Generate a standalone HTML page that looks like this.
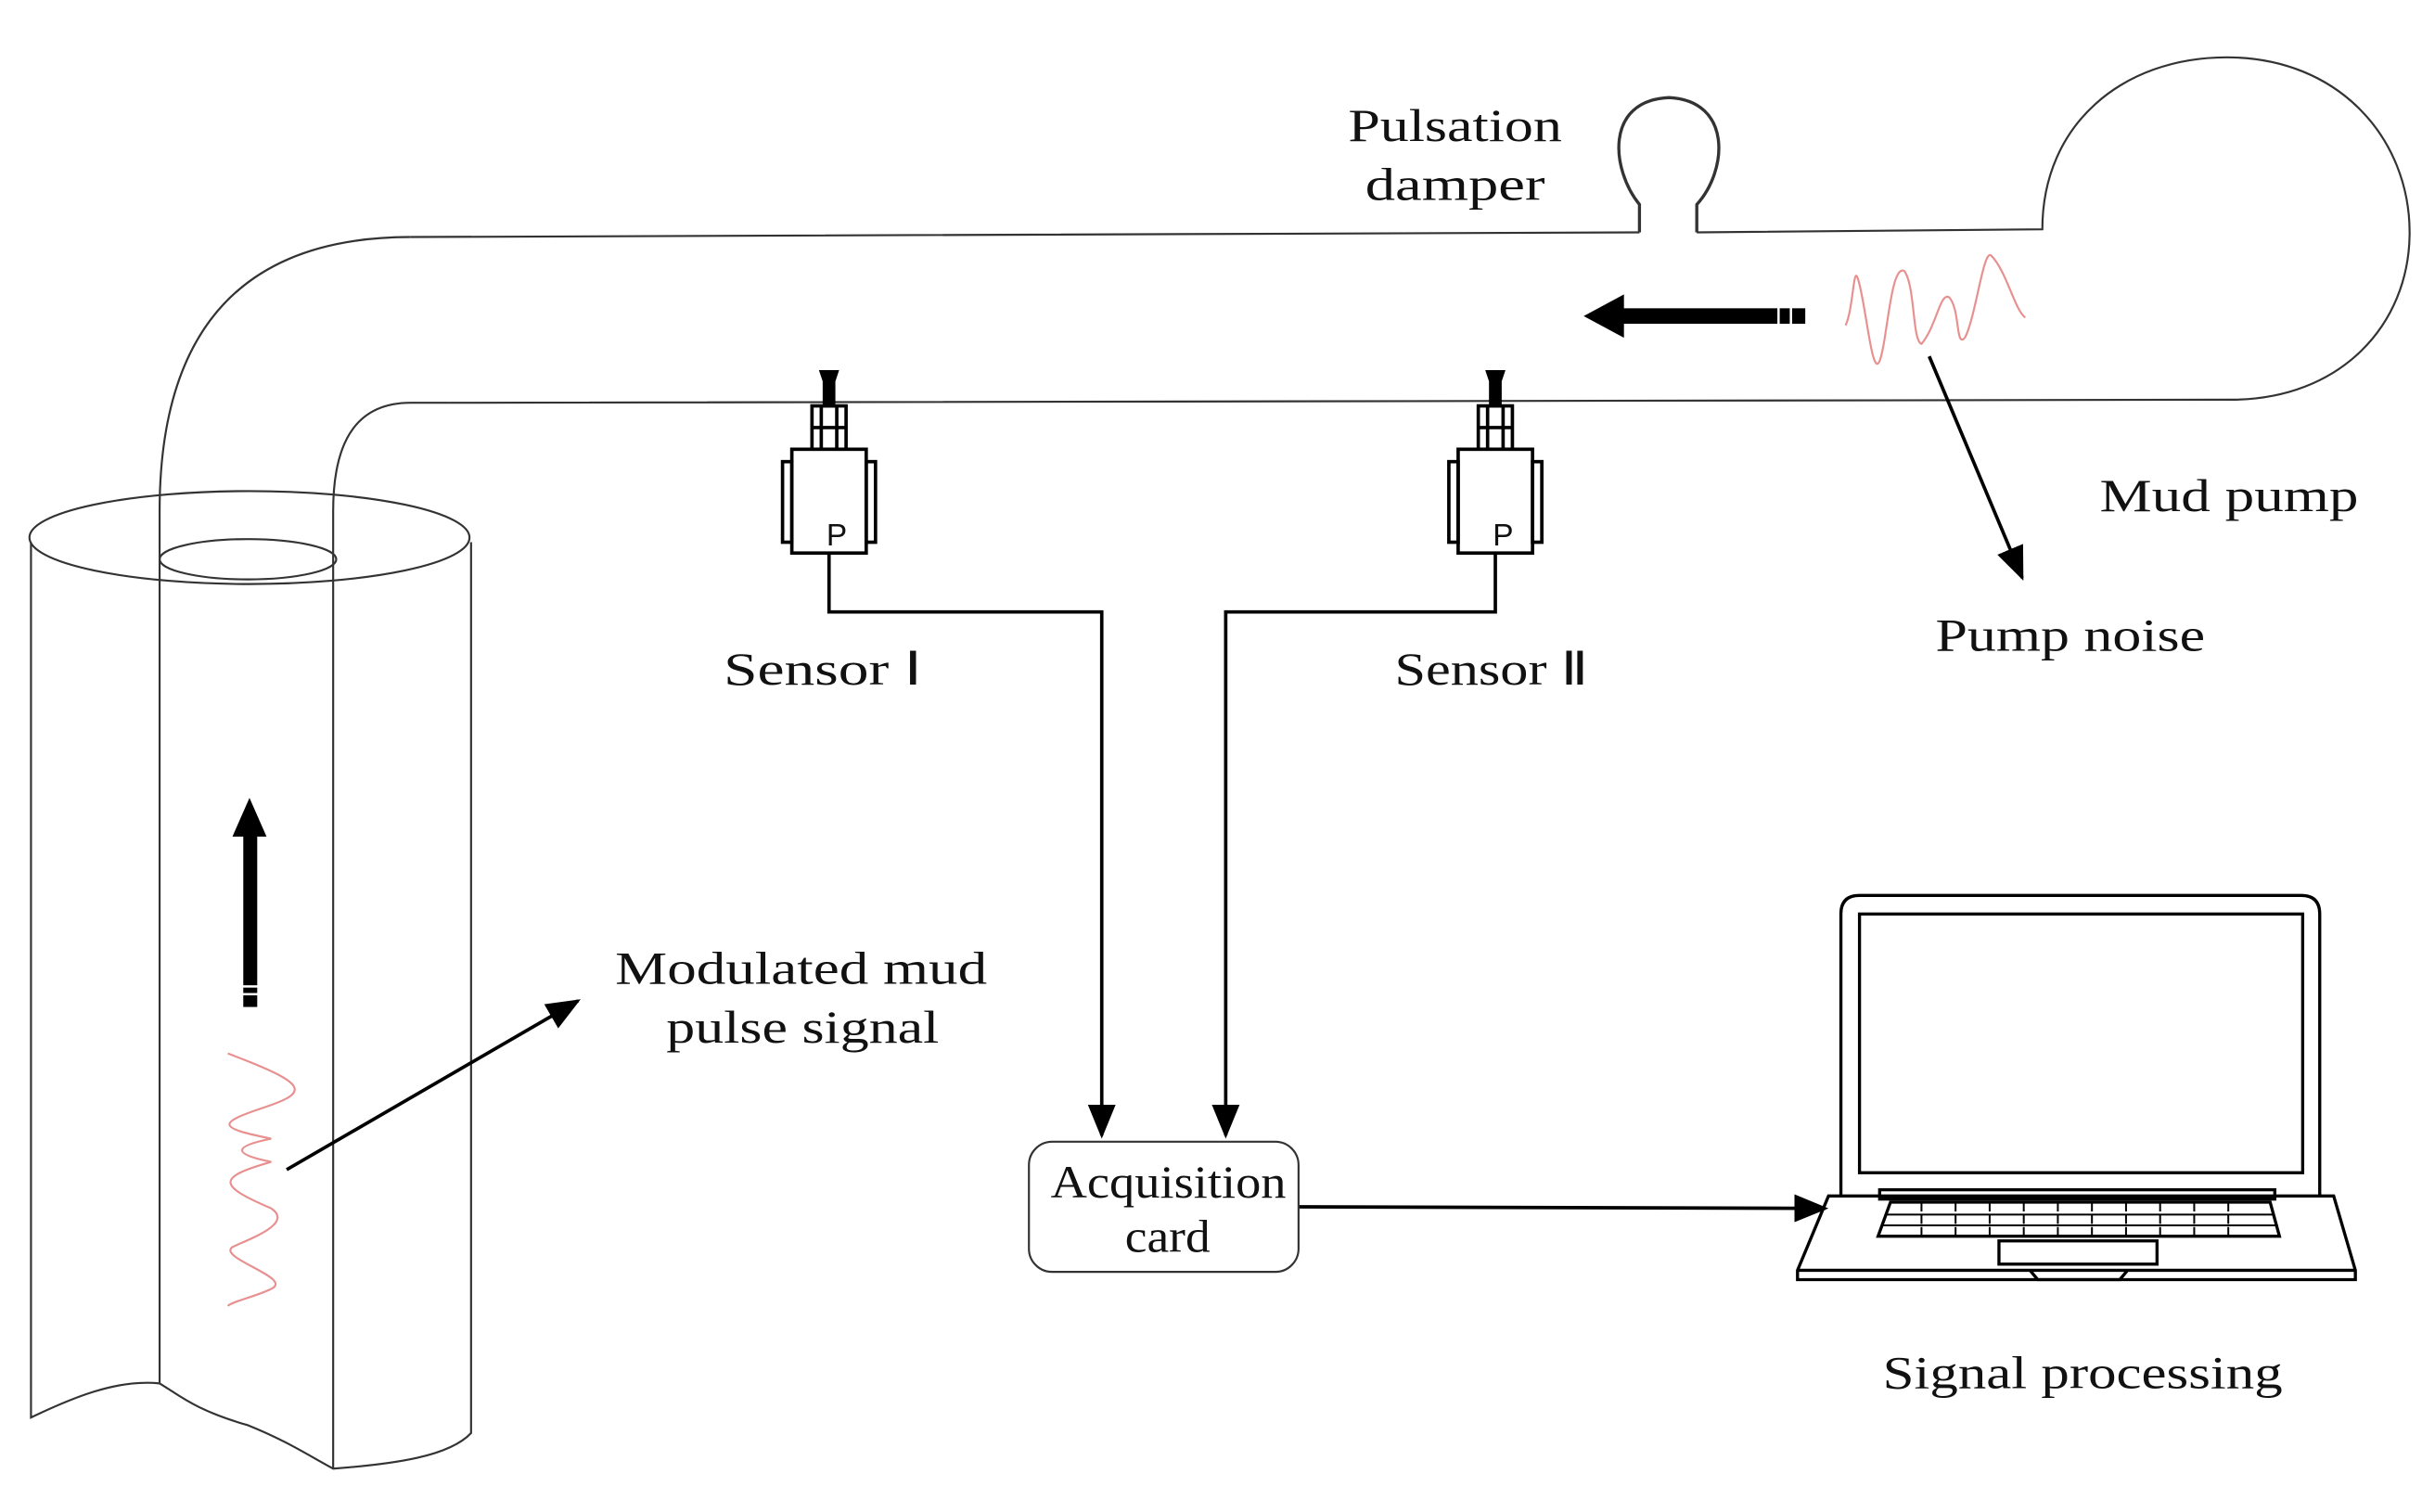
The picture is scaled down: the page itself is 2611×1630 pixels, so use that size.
<!DOCTYPE html>
<html><head><meta charset="utf-8"><style>
html,body{margin:0;padding:0;background:#fff;}
svg{display:block;}
text{font-family:"Liberation Serif",serif;font-size:30px;fill:#111;}
</style></head><body>
<svg width="2611" height="1630" viewBox="0 0 1563 976" preserveAspectRatio="none" xmlns="http://www.w3.org/2000/svg">
<defs>
<marker id="ah2" markerWidth="22" markerHeight="18" refX="20" refY="9" orient="auto" markerUnits="userSpaceOnUse">
<path d="M0,0 L22,9 L0,18 Z" fill="#000"/></marker>
</defs>
<g fill="none" stroke="#333" stroke-width="1.3">
<path d="M265,153 L1058,150 M1095,150 L1318,148 C1318,80 1370,37 1437,37 C1510,37 1555,90 1555,150 C1555,210 1510,258 1440,258 L290,260"/>
<path stroke-width="2" d="M1058,150 L1058,132 C1040,110 1035,65 1077,63 C1118,65 1115,110 1095,132 L1095,150"/>
<path d="M265,153 C150,153 103,220 103,330 L103,893"/>
<path d="M290,260 L265,260 C232,260 215,282 215,330 L215,948"/>
<ellipse cx="161" cy="347" rx="142" ry="30"/>
<ellipse cx="160" cy="361" rx="57" ry="13"/>
<path d="M20,350 L20,915 C45,903 75,890 103,893 C115,900 125,910 160,920 C185,930 200,940 215,948 C255,945 290,940 304,925 L304,350"/>
</g>
<rect x="157" y="537" width="9" height="113" fill="#000"/>
<rect x="155" y="636" width="13" height="1.5" fill="#fff"/>
<rect x="155" y="641" width="13" height="1.5" fill="#fff"/>
<path d="M150,540 L161,515 L172,540 Z" fill="#000"/>
<path d="M147,680 C200,700 200,705 170,715 C140,725 140,728 175,735 C150,740 150,745 175,750 C140,760 140,765 175,780 C190,790 160,800 150,805 C140,812 190,825 175,832 C165,837 150,840 147,843" fill="none" stroke="#e89090" stroke-width="1.3"/>
<line x1="185" y1="755" x2="373" y2="646" stroke="#000" stroke-width="2.2" marker-end="url(#ah2)"/>
<rect x="1045" y="199" width="120" height="10" fill="#000"/>
<rect x="1147" y="197" width="1.5" height="14" fill="#fff"/>
<rect x="1155" y="197" width="1.5" height="14" fill="#fff"/>
<path d="M1048,190 L1022,204 L1048,218 Z" fill="#000"/>
<path d="M1191,210 C1196,200 1196,170 1199,180 C1204,195 1208,245 1213,233 C1218,220 1220,170 1229,175 C1236,185 1234,220 1240,222 C1250,210 1252,188 1258,192 C1265,200 1262,225 1268,218 C1275,205 1280,160 1285,165 C1295,175 1300,200 1307,205" fill="none" stroke="#e89090" stroke-width="1.3"/>
<line x1="1245" y1="230" x2="1305" y2="373" stroke="#000" stroke-width="2.2" marker-end="url(#ah2)"/>
<g stroke="#000" fill="none" stroke-width="2.2">
<g id="s1">
<path d="M530,240 L540,240 L538,246 L538,262 L532,262 L532,246 Z" fill="#000"/>
<rect x="524" y="262" width="22" height="28"/>
<line x1="530" y1="262" x2="530" y2="290"/><line x1="540" y1="262" x2="540" y2="290"/><line x1="524" y1="276" x2="546" y2="276"/>
<rect x="511" y="290" width="48" height="67" fill="#fff"/>
<rect x="505" y="298" width="6" height="52"/><rect x="559" y="298" width="6" height="52"/>
</g>
<use href="#s1" x="430"/>
<polyline points="535,357 535,395 711,395 711,733" marker-end="url(#ah2)"/>
<polyline points="965,357 965,395 791,395 791,733" marker-end="url(#ah2)"/>
<line x1="838" y1="779" x2="1178" y2="780" marker-end="url(#ah2)"/>
</g>
<text x="540" y="352" text-anchor="middle" style="font-family:'Liberation Sans',sans-serif;font-size:20px">P</text>
<text x="970" y="352" text-anchor="middle" style="font-family:'Liberation Sans',sans-serif;font-size:20px">P</text>
<rect x="664" y="737" width="174" height="84" rx="15" fill="none" stroke="#333" stroke-width="1.3"/>
<text x="678" y="773" textLength="152" lengthAdjust="spacingAndGlyphs">Acquisition</text>
<text x="726" y="808" textLength="55" lengthAdjust="spacingAndGlyphs">card</text>
<g fill="none" stroke="#000" stroke-width="2">
<path d="M1188,772 L1188,590 Q1188,578 1200,578 L1485,578 Q1497,578 1497,590 L1497,772"/>
<rect x="1200" y="590" width="286" height="167"/>
<path d="M1180,772 L1506,772 L1520,820 L1520,826 L1160,826 L1160,820 Z"/>
<line x1="1160" y1="820" x2="1520" y2="820"/>
<rect x="1213" y="768" width="255" height="6"/>
<path d="M1220,776 L1465,776 L1471,798 L1212,798 Z"/>
<path d="M1217,784 L1468,784 M1215,791 L1470,791" stroke-width="1.2"/>
<path d="M1240,776 V798 M1262,776 V798 M1284,776 V798 M1306,776 V798 M1328,776 V798 M1350,776 V798 M1372,776 V798 M1394,776 V798 M1416,776 V798 M1438,776 V798" stroke-width="1.2" stroke-dasharray="6,2"/>
<rect x="1290" y="801" width="102" height="15"/>
<path d="M1310,820 L1315,826 L1368,826 L1373,820"/>
</g>
<text x="870" y="91" textLength="138" lengthAdjust="spacingAndGlyphs">Pulsation</text>
<text x="881" y="129" textLength="116" lengthAdjust="spacingAndGlyphs">damper</text>
<text x="1355" y="330" textLength="167" lengthAdjust="spacingAndGlyphs">Mud pump</text>
<text x="1249" y="420" textLength="174" lengthAdjust="spacingAndGlyphs">Pump noise</text>
<text x="467" y="442" textLength="128" lengthAdjust="spacingAndGlyphs">Sensor  Ⅰ</text>
<text x="900" y="442" textLength="125" lengthAdjust="spacingAndGlyphs">Sensor Ⅱ</text>
<text x="397" y="635" textLength="240" lengthAdjust="spacingAndGlyphs">Modulated mud</text>
<text x="430" y="673" textLength="176" lengthAdjust="spacingAndGlyphs">pulse signal</text>
<text x="1215" y="896" textLength="258" lengthAdjust="spacingAndGlyphs">Signal processing</text>
</svg>
</body></html>
